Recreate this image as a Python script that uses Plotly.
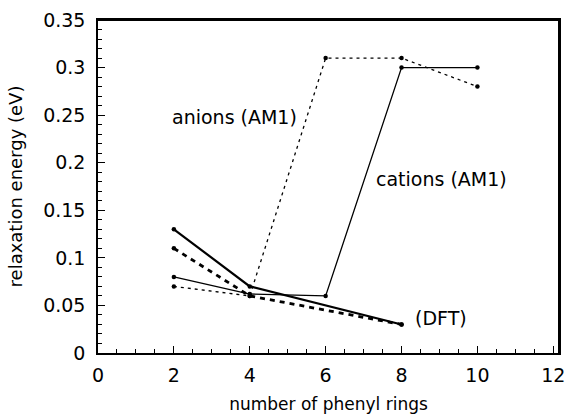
import plotly.graph_objects as go

rings = [2, 4, 6, 8, 10]
cations_am1 = [0.08, 0.062, 0.06, 0.30, 0.30]
anions_am1 = [0.07, 0.06, 0.31, 0.31, 0.28]

rings_dft = [2, 4, 8]
cations_dft = [0.13, 0.07, 0.03]
anions_dft = [0.11, 0.06, 0.03]

x_ticks = [0, 2, 4, 6, 8, 10, 12]

FONT = "DejaVu Sans"

fig = go.Figure()

fig.add_trace(go.Scatter(x=rings, y=cations_am1, mode="lines+markers",
                         line=dict(color="black", width=1.3),
                         marker=dict(color="black", size=4.5)))
fig.add_trace(go.Scatter(x=rings, y=anions_am1, mode="lines+markers",
                         line=dict(color="black", width=1.3, dash="3px,4px"),
                         marker=dict(color="black", size=4.5)))
fig.add_trace(go.Scatter(x=rings_dft, y=cations_dft, mode="lines+markers",
                         line=dict(color="black", width=2.2),
                         marker=dict(color="black", size=4.5)))
fig.add_trace(go.Scatter(x=rings_dft, y=anions_dft, mode="lines+markers",
                         line=dict(color="black", width=2.8, dash="5px,5px"),
                         marker=dict(color="black", size=4.5)))

annots = [
    ("anions (AM1)", 3.6, 0.248),
    ("cations (AM1)", 9.05, 0.183),
    ("(DFT)", 9.05, 0.037),
]
for txt, ax, ay in annots:
    fig.add_annotation(x=ax, y=ay, text=txt, showarrow=False,
                       font=dict(family=FONT, size=19, color="black"),
                       xanchor="center", yanchor="middle")

# plot frame: top and right edges
fig.add_shape(type="line", xref="paper", yref="paper", x0=0, y0=1, x1=1, y1=1,
              line=dict(color="black", width=2), layer="above")
fig.add_shape(type="line", xref="paper", yref="paper", x0=1, y0=0, x1=1, y1=1,
              line=dict(color="black", width=2), layer="above")

fig.update_layout(
    width=568, height=414,
    margin=dict(l=98, r=9, t=20, b=61),
    paper_bgcolor="white", plot_bgcolor="white",
    showlegend=False,
    font=dict(family=FONT, color="black"),
    xaxis=dict(range=[0, 12.15], tickvals=x_ticks, ticks="inside", ticklen=7,
               tickwidth=1.2, tickcolor="black", automargin=False,
               minor=dict(dtick=0.5, ticks="inside", ticklen=4, tickcolor="black"),
               showline=True, linecolor="black", linewidth=1.5, mirror=True,
               showgrid=False, zeroline=False, ticklabeloverflow="allow",
               tickfont=dict(family=FONT, size=19, color="black"),
               ticklabelstandoff=4,
               title=dict(text="number of phenyl rings",
                          font=dict(family=FONT, size=17, color="black"),
                          standoff=15)),
    yaxis=dict(range=[0, 0.35001], dtick=0.05, ticks="inside", ticklen=7,
               tickwidth=1.2, tickcolor="black", automargin=False,
               minor=dict(dtick=0.01, ticks="inside", ticklen=4, tickcolor="black"),
               showline=True, linecolor="black", linewidth=1.5, mirror=True,
               showgrid=False, zeroline=False, ticklabeloverflow="allow",
               tickfont=dict(family=FONT, size=19, color="black"),
               ticklabelstandoff=7,
               title=dict(text="relaxation energy (eV)",
                          font=dict(family=FONT, size=18, color="black"),
                          standoff=16)),
)

fig.write_html("out.html", config={"displayModeBar": False},
               post_script="document.body.style.margin='0';document.body.style.padding='0';document.documentElement.style.overflow='hidden';")
